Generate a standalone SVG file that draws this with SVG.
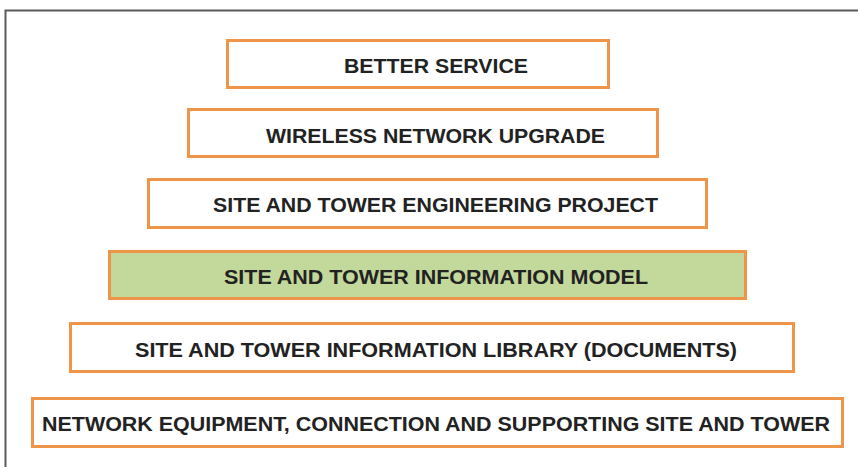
<svg xmlns="http://www.w3.org/2000/svg" width="858" height="467" viewBox="0 0 858 467">
<style>
.box{fill:#ffffff;stroke:#ef9549;stroke-width:3}
.hl{fill:#c3d89b}
.t{font-family:"Liberation Sans",Arial,sans-serif;font-weight:bold;font-size:20px;fill:#222222;text-anchor:middle}
</style>
<rect x="0" y="0" width="858" height="467" fill="#ffffff"/>
<g id="frame">
<path d="M5.5 467 V10.5 H858" fill="none" stroke="#5a5a5a" stroke-width="2"/>
</g>
<g id="connectors"></g>
<g id="n1"><rect class="box" x="227.5" y="40.5" width="381" height="47"/><text class="t" x="436" y="73" textLength="184" lengthAdjust="spacingAndGlyphs">BETTER SERVICE</text></g>
<g id="n2"><rect class="box" x="188.5" y="109.5" width="469" height="47"/><text class="t" x="435.5" y="143" textLength="339" lengthAdjust="spacingAndGlyphs">WIRELESS NETWORK UPGRADE</text></g>
<g id="n3"><rect class="box" x="148.5" y="179.5" width="558" height="48"/><text class="t" x="435.5" y="212" textLength="445" lengthAdjust="spacingAndGlyphs">SITE AND TOWER ENGINEERING PROJECT</text></g>
<g id="n4"><rect class="box hl" x="109.5" y="251.5" width="636" height="47"/><text class="t" x="436" y="284" textLength="424" lengthAdjust="spacingAndGlyphs">SITE AND TOWER INFORMATION MODEL</text></g>
<g id="n5"><rect class="box" x="70.5" y="323.5" width="723" height="48"/><text class="t" x="436" y="357" textLength="602" lengthAdjust="spacingAndGlyphs">SITE AND TOWER INFORMATION LIBRARY (DOCUMENTS)</text></g>
<g id="n6"><rect class="box" x="32.5" y="398.5" width="810" height="48"/><text class="t" x="436" y="431" textLength="788" lengthAdjust="spacingAndGlyphs">NETWORK EQUIPMENT, CONNECTION AND SUPPORTING SITE AND TOWER</text></g>
</svg>
